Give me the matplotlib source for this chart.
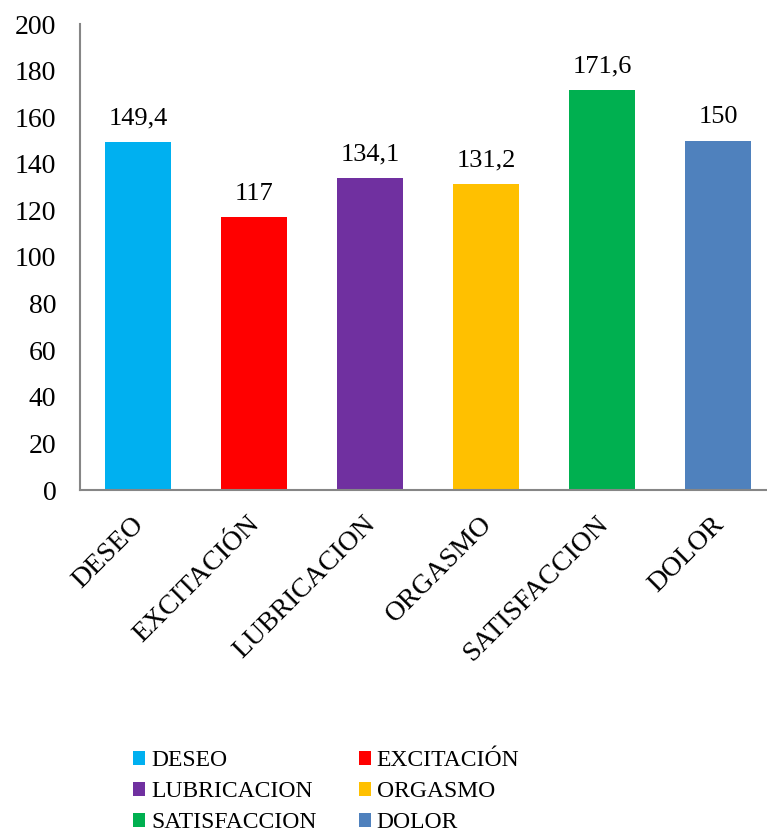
import matplotlib
matplotlib.use('Agg')
from matplotlib import pyplot as plt
from matplotlib.patches import Patch
from matplotlib.transforms import ScaledTranslation

categories = ['DESEO', 'EXCITACIÓN', 'LUBRICACION', 'ORGASMO', 'SATISFACCION', 'DOLOR']
values = [149.4, 117, 134.1, 131.2, 171.6, 150]
value_labels = ['149,4', '117', '134,1', '131,2', '171,6', '150']
colors = ['#00B0F0', '#FF0000', '#7030A0', '#FFC000', '#00B050', '#4F81BD']
yticks = [0, 20, 40, 60, 80, 100, 120, 140, 160, 180, 200]

plt.rcParams['font.family'] = ['Liberation Serif', 'DejaVu Serif']

fig = plt.figure(figsize=(7.67, 8.35), dpi=100)
ax = fig.add_axes([80 / 767, 345 / 835, 687 / 767, 466 / 835])

x = list(range(len(categories)))
ax.bar(x, values, width=0.57, color=colors)

for xi, v, lab in zip(x, values, value_labels):
    ax.annotate(lab, (xi, v), xytext=(0, 9), textcoords='offset points',
                ha='center', va='bottom', fontsize=19)

ax.set_xlim(-0.5, 5.42)
ax.set_ylim(0, 200)
ax.set_yticks(yticks)
ax.set_yticklabels([str(t) for t in yticks], fontsize=20)
ax.tick_params(axis='y', length=0, pad=17)
ax.set_xticks(x)
ax.set_xticklabels(categories, fontsize=20, rotation=45, ha='right',
                   va='center', rotation_mode='anchor')
ax.tick_params(axis='x', length=0, pad=22)
shift = ScaledTranslation(2 / 100, 0, fig.dpi_scale_trans)
for lbl in ax.get_xticklabels():
    lbl.set_transform(lbl.get_transform() + shift)

for side in ['top', 'right']:
    ax.spines[side].set_visible(False)
for side in ['left', 'bottom']:
    ax.spines[side].set_color('#868686')
    ax.spines[side].set_linewidth(1.5)

# legend fills column-major, so order handles to read row by row
order = [0, 2, 4, 1, 3, 5]
handles = [Patch(facecolor=colors[i], label=categories[i]) for i in order]
fig.legend(handles=handles, loc='upper left', bbox_to_anchor=(124 / 767, 1 - 741 / 835),
           ncol=2, frameon=False, fontsize=17, handlelength=0.5, handleheight=0.5,
           handletextpad=0.25, columnspacing=1.8, labelspacing=0.42, borderaxespad=0)

plt.savefig('out.png', dpi=100)
